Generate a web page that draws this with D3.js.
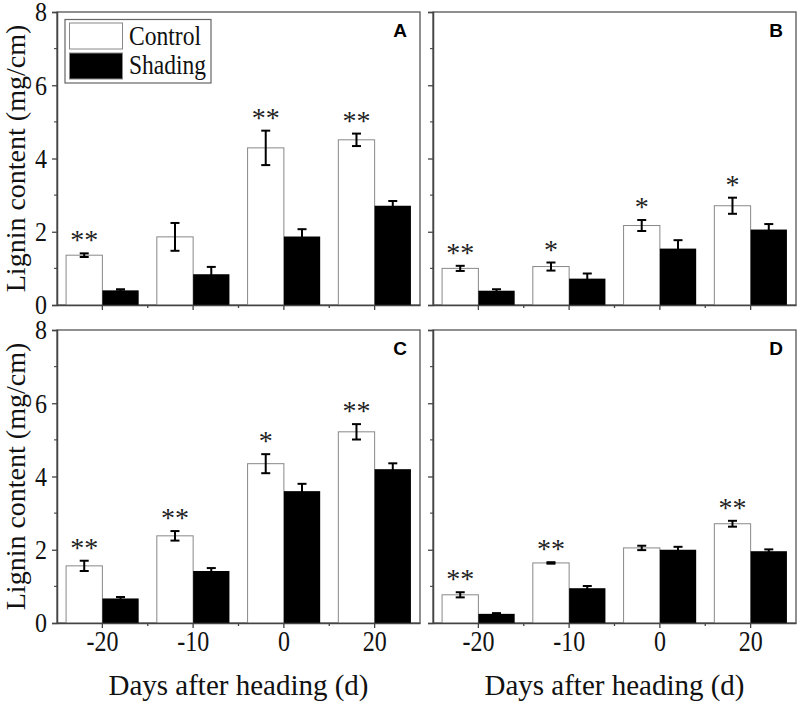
<!DOCTYPE html>
<html><head><meta charset="utf-8">
<script src="https://cdn.jsdelivr.net/npm/d3@7"></script>
<style>html,body{margin:0;padding:0;background:#fff;}svg{display:block;}</style>
</head><body>
<svg id="chart" width="800" height="704"></svg>
<script>
// ---------- data ----------
const categories = ["-20", "-10", "0", "20"];
const seriesNames = ["Control", "Shading"];
const yTicks = [0, 2, 4, 6, 8];
const yMinorTicks = [1, 3, 5, 7];

const controlA = [1.36, 1.86, 4.29, 4.51];
const controlErrA = [0.05, 0.38, 0.47, 0.17];
const shadingA = [0.40, 0.84, 1.87, 2.71];
const shadingErrA = [0.03, 0.20, 0.20, 0.13];
const sigA = ["**", "", "**", "**"];

const controlB = [1.00, 1.05, 2.17, 2.71];
const controlErrB = [0.07, 0.11, 0.15, 0.22];
const shadingB = [0.39, 0.72, 1.54, 2.06];
const shadingErrB = [0.04, 0.14, 0.23, 0.15];
const sigB = ["**", "*", "*", "*"];

const controlC = [1.56, 2.38, 4.35, 5.22];
const controlErrC = [0.14, 0.13, 0.26, 0.21];
const shadingC = [0.67, 1.42, 3.60, 4.20];
const shadingErrC = [0.04, 0.08, 0.20, 0.16];
const sigC = ["**", "**", "*", "**"];

const controlD = [0.77, 1.64, 2.05, 2.71];
const controlErrD = [0.07, 0.02, 0.06, 0.08];
const shadingD = [0.25, 0.95, 2.00, 1.96];
const shadingErrD = [0.02, 0.06, 0.08, 0.05];
const sigD = ["**", "**", "", "**"];

const yTitle = "Lignin content (mg/cm)";
const xTitle = "Days after heading (d)";

// ---------- layout ----------
const panels = [
  {id: "A", c: controlA, ce: controlErrA, s: shadingA, se: shadingErrA, sig: sigA, x0: 57, x1: 420, y0: 12, y1: 305, left: true, bottom: false, legend: true},
  {id: "B", c: controlB, ce: controlErrB, s: shadingB, se: shadingErrB, sig: sigB, x0: 433, x1: 796, y0: 12, y1: 305, left: false, bottom: false},
  {id: "C", c: controlC, ce: controlErrC, s: shadingC, se: shadingErrC, sig: sigC, x0: 57, x1: 420, y0: 330, y1: 623, left: true, bottom: true},
  {id: "D", c: controlD, ce: controlErrD, s: shadingD, se: shadingErrD, sig: sigD, x0: 433, x1: 796, y0: 330, y1: 623, left: false, bottom: true}
];

const svg = d3.select("#chart");
const serif = "'Liberation Serif','Times New Roman',serif";
const sans = "'Liberation Sans',Arial,sans-serif";
const axisColor = "#444";
const vStretch = 1.2;

panels.forEach(p => {
  const g = svg.append("g");
  const x = d3.scaleBand().domain(categories).range([p.x0, p.x1]).paddingInner(0.2).paddingOuter(0.1);
  const xs = d3.scaleBand().domain(seriesNames).range([0, x.bandwidth()]).padding(0);
  const y = d3.scaleLinear().domain([0, 8]).range([p.y1, p.y0]);

  // border (top/right)
  g.append("rect").attr("x", p.x0).attr("y", p.y0).attr("width", p.x1 - p.x0).attr("height", p.y1 - p.y0)
    .attr("fill", "none").attr("stroke", "#555").attr("stroke-width", 1.3);

  // bars
  const rows = categories.map((cat, i) => ({cat, i}));
  rows.forEach(r => {
    const xc = x(r.cat) + xs("Control");
    const xsh = x(r.cat) + xs("Shading");
    g.append("rect").attr("x", xc).attr("y", y(p.c[r.i])).attr("width", xs.bandwidth())
      .attr("height", y(0) - y(p.c[r.i])).attr("fill", "#fff").attr("stroke", "#888").attr("stroke-width", 1);
    g.append("rect").attr("x", xsh).attr("y", y(p.s[r.i])).attr("width", xs.bandwidth())
      .attr("height", y(0) - y(p.s[r.i])).attr("fill", "#000");
    // error bars
    [[xc, p.c[r.i], p.ce[r.i]], [xsh, p.s[r.i], p.se[r.i]]].forEach(([bx, v, e]) => {
      const cx = bx + xs.bandwidth() / 2;
      const eg = g.append("g").attr("stroke", "#000").attr("stroke-width", 2);
      eg.append("line").attr("x1", cx).attr("x2", cx).attr("y1", y(v + e)).attr("y2", y(v - e));
      eg.append("line").attr("x1", cx - 4.5).attr("x2", cx + 4.5).attr("y1", y(v + e)).attr("y2", y(v + e));
      eg.append("line").attr("x1", cx - 4.5).attr("x2", cx + 4.5).attr("y1", y(v - e)).attr("y2", y(v - e));
    });
    // significance
    if (p.sig[r.i]) {
      g.append("text").attr("x", xc + xs.bandwidth() / 2).attr("y", y(p.c[r.i] + p.ce[r.i]) - 4)
        .attr("text-anchor", "middle").attr("font-family", serif).attr("font-size", 28)
        .attr("fill", "#222").text(p.sig[r.i]);
    }
  });

  // y axis
  const yAxis = d3.axisLeft(y).tickValues(yTicks).tickSize(5).tickPadding(5)
    .tickFormat(p.left ? d3.format("d") : () => "");
  const ya = g.append("g").attr("transform", `translate(${p.x0},0)`).call(yAxis);
  ya.select(".domain").attr("stroke", axisColor).attr("stroke-width", 1.5);
  ya.selectAll(".tick line").attr("stroke", axisColor).attr("stroke-width", 1.3);
  ya.selectAll(".tick text").attr("font-family", serif).attr("font-size", 24).attr("fill", "#111")
    .attr("y", 0).attr("dy", "0.34em").attr("transform", "scale(1,1.1)");
  yMinorTicks.forEach(v => {
    g.append("line").attr("x1", p.x0 - 3).attr("x2", p.x0).attr("y1", y(v)).attr("y2", y(v))
      .attr("stroke", axisColor).attr("stroke-width", 1.1);
  });

  // x axis (major ticks at group centers)
  const xAxis = d3.axisBottom(x).tickSize(5).tickPadding(6).tickSizeOuter(0)
    .tickFormat(p.bottom ? (d => d) : () => "");
  const xa = g.append("g").attr("transform", `translate(0,${p.y1})`).call(xAxis);
  xa.select(".domain").attr("stroke", axisColor).attr("stroke-width", 1.5);
  xa.selectAll(".tick line").attr("stroke", axisColor).attr("stroke-width", 1.3);
  xa.selectAll(".tick text").attr("font-family", serif).attr("font-size", 24).attr("fill", "#111")
    .attr("y", 28 / vStretch).attr("dy", 0).attr("transform", `scale(1,${vStretch})`);
  // minor ticks at group boundaries
  categories.slice(1).forEach(cat => {
    const bx = x(cat) - x.step() * x.paddingInner() / 2;
    g.append("line").attr("x1", bx).attr("x2", bx).attr("y1", p.y1).attr("y2", p.y1 + 3)
      .attr("stroke", axisColor).attr("stroke-width", 1.3);
  });

  // panel letter
  g.append("text").attr("x", p.x1 - 20).attr("y", p.y0 + 25).attr("text-anchor", "middle")
    .attr("font-family", sans).attr("font-weight", "bold").attr("font-size", 19).attr("fill", "#000").text(p.id);

  // y title
  if (p.left) {
    g.append("text").attr("transform", `translate(25,${(p.y0 + p.y1) / 2}) rotate(-90)`)
      .attr("text-anchor", "middle").attr("font-family", serif).attr("font-size", 28).attr("fill", "#111").text(yTitle);
  }
  // x title
  if (p.bottom) {
    g.append("text").attr("transform", `translate(${(p.x0 + p.x1) / 2},695) scale(1,1.05)`)
      .attr("text-anchor", "middle").attr("font-family", serif).attr("font-size", 29).attr("fill", "#111").text(xTitle);
  }

  // legend
  if (p.legend) {
    const lg = g.append("g");
    lg.append("rect").attr("x", 65).attr("y", 19.5).attr("width", 146).attr("height", 63.5)
      .attr("fill", "#fff").attr("stroke", "#666").attr("stroke-width", 1.2);
    const items = [{name: seriesNames[0], fill: "#fff", len: 72}, {name: seriesNames[1], fill: "#000", len: 77}];
    items.forEach((it, k) => {
      lg.append("rect").attr("x", 69.5).attr("y", 23 + k * 30).attr("width", 53).attr("height", 26)
        .attr("fill", it.fill).attr("stroke", "#888").attr("stroke-width", 1);
      lg.append("text").attr("x", 129).attr("y", 45 + k * 28.5).attr("font-family", serif).attr("font-size", 27)
        .attr("textLength", it.len).attr("lengthAdjust", "spacingAndGlyphs").attr("fill", "#111").text(it.name);
    });
  }
});
</script>
</body></html>
